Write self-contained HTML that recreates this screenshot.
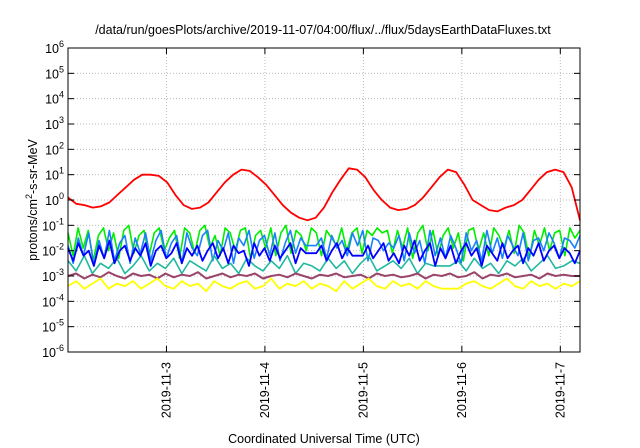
<!DOCTYPE html>
<html><head><meta charset="utf-8"><style>
body{margin:0;background:#fff;}
svg{display:block;font-family:"Liberation Sans",sans-serif;}
</style></head><body>
<svg id="chart" width="640" height="448" viewBox="0 0 640 448" xmlns="http://www.w3.org/2000/svg">
<text x="323" y="34" font-size="12.5" text-anchor="middle" fill="#000">/data/run/goesPlots/archive/2019-11-07/04:00/flux/../flux/5daysEarthDataFluxes.txt</text>
<text transform="translate(37,200) rotate(-90)" font-size="12.5" text-anchor="middle">protons/cm<tspan dy="-5" font-size="9">2</tspan><tspan dy="5">-s-sr-MeV</tspan></text>
<text x="324" y="443" font-size="12.5" text-anchor="middle">Coordinated Universal Time (UTC)</text>
<g id="grid"></g><g id="series"></g><g id="axes"></g>
</svg>
<script>
const L=68,R=580,T=48,B=352;
const yMin=-6,yMax=6,xMax=5.2;
const yTicks=[-6,-5,-4,-3,-2,-1,0,1,2,3,4,5,6];
const xTickDays=[1,2,3,4,5];
const xTickLabels=["2019-11-3","2019-11-4","2019-11-5","2019-11-6","2019-11-7"];
const red=[0.1,-0.15,-0.2,-0.3,-0.25,-0.1,0.2,0.5,0.8,1.0,1.0,0.95,
0.7,0.2,-0.2,-0.35,-0.3,-0.1,0.3,0.7,1.0,1.2,1.15,0.9,
0.6,0.2,-0.2,-0.5,-0.7,-0.8,-0.7,-0.3,0.3,0.8,1.25,1.2,
0.9,0.4,0.0,-0.3,-0.4,-0.35,-0.2,0.1,0.5,0.9,1.2,1.1,
0.6,0.0,-0.2,-0.4,-0.45,-0.3,-0.2,0.0,0.4,0.8,1.1,1.2,
1.1,0.5,-0.8];
const green=[-1.3,-2.2,-1.1,-1.9,-1.2,-2.4,-1.4,-1.1,-2.0,-1.3,-2.3,-1.2,-1.0,-2.1,-1.4,-1.2,-2.2,-1.3,-1.1,-2.0,-1.5,-1.2,-2.3,-1.1,-1.3,-2.1,-1.2,-1.0,-1.9,-1.4,-2.2,-1.1,-1.3,-2.0,-1.2,-1.1,-2.3,-1.4,-1.2,-1.9,-1.1,-2.2,-1.3,-1.0,-2.1,-1.2,-1.4,-2.0,-1.1,-1.3,-2.2,-1.2,-1.5,-1.8,-1.1,-2.0,-1.3,-1.1,-2.1,-1.2,-1.4,-1.1,-1.3,-1.2,
-2.1,-1.2,-1.9,-1.1,-2.3,-1.3,-1.0,-2.0,-1.2,-2.2,-1.4,-1.1,-1.9,-1.3,-2.4,-1.2,-1.1,-2.0,-1.3,-2.2,-1.1,-1.4,-1.9,-1.2,-2.1,-1.0,-1.3,-2.3,-1.2,-1.8,-1.1,-2.0,-1.3,-1.2,-2.2,-1.1,-1.5,-1.2];
const lightBlue=[-1.8,-2.5,-1.5,-2.2,-1.3,-2.6,-1.6,-2.3,-1.2,-2.4,-1.7,-1.4,-2.5,-1.5,-2.1,-1.3,-2.4,-1.6,-1.2,-2.3,-1.7,-1.4,-2.5,-1.3,-1.9,-2.2,-1.4,-1.2,-2.4,-1.6,-2.0,-1.3,-2.5,-1.5,-1.8,-1.2,-2.3,-1.6,-1.4,-2.2,-1.3,-2.4,-1.7,-1.2,-2.1,-1.5,-1.8,-1.8,-1.8,-1.5,-2.3,-1.4,-1.9,-1.6,-2.2,-1.3,-1.8,-1.2,-2.4,-1.5,-1.6,-2.0,-1.7,-1.9,
-1.4,-2.4,-1.3,-2.1,-1.6,-2.5,-1.2,-2.2,-1.5,-2.3,-1.4,-1.9,-2.5,-1.3,-2.0,-1.6,-2.4,-1.2,-2.1,-1.5,-2.3,-1.4,-1.8,-2.2,-1.3,-2.4,-1.6,-1.5,-2.0,-1.3,-1.7,-2.3,-1.5,-1.6,-1.9,-1.4];
const teal=[-2.4,-2.8,-2.2,-2.9,-2.5,-2.7,-2.3,-2.9,-2.6,-2.2,-2.8,-2.5,-2.7,-2.3,-2.9,-2.4,-2.6,-2.8,-2.2,-2.7,-2.5,-2.9,-2.3,-2.6,-2.8,-2.4,-2.7,-2.2,-2.9,-2.5,-2.6,-2.8,-2.3,-2.7,-2.4,-2.9,-2.5,-2.2,-2.8,-2.6,-2.4,-2.7,-2.3,-2.9,-2.5,-2.6,-2.6,-2.6,-2.4,-2.8,-2.3,-2.7,-2.5,-2.9,-2.4,-2.6,-2.3,-2.8,-2.5,-2.2,-2.7,-2.6,-2.4,-2.5];
const blue=[-1.9,-2.4,-1.7,-2.2,-2.0,-2.6,-1.8,-2.3,-1.6,-2.5,-2.0,-1.8,-2.4,-1.9,-2.2,-1.7,-2.6,-2.0,-1.8,-2.3,-2.1,-1.7,-2.5,-1.9,-2.2,-1.8,-2.4,-2.0,-1.7,-2.3,-1.9,-2.5,-1.8,-2.1,-2.0,-2.6,-1.7,-2.2,-1.9,-2.4,-1.8,-2.3,-2.0,-1.7,-2.5,-1.9,-2.1,-2.1,-2.1,-1.8,-2.4,-2.0,-1.7,-2.3,-1.9,-2.2,-2.2,-2.2,-1.8,-2.3,-2.0,-1.7,-2.4,-2.1,
-2.5,-1.8,-2.2,-1.6,-2.4,-2.0,-1.7,-2.6,-1.9,-2.3,-1.8,-2.5,-2.0,-1.7,-2.2,-1.9,-2.6,-1.8,-2.1,-2.4,-1.7,-2.3,-2.0,-1.8,-2.5,-1.9,-2.2,-1.7,-2.4,-2.0,-1.8,-2.3,-1.9,-2.1,-2.5,-2.0];
const purple=[-3.0,-2.9,-3.1,-2.95,-3.05,-2.85,-3.0,-3.1,-2.9,-3.0,-2.95,-3.1,-2.9,-3.05,-2.95,-3.0,-2.85,-3.1,-3.0,-2.9,-3.05,-2.95,-3.0,-2.9,-3.1,-3.0,-2.95,-3.05,-2.9,-3.0,-3.1,-2.95,-3.0,-2.9,-3.05,-3.0,-2.95,-3.1,-2.9,-3.0,-2.95,-3.05,-3.0,-2.9,-3.1,-2.95,-3.0,-2.9,-3.05,-3.0,-2.85,-3.1,-2.95,-3.0,-2.9,-3.05,-3.0,-2.95,-3.1,-2.9,-3.0,-2.95,-3.0,-3.0];
const yellow=[-3.4,-3.2,-3.5,-3.3,-3.1,-3.5,-3.3,-3.4,-3.2,-3.5,-3.3,-3.1,-3.4,-3.5,-3.2,-3.4,-3.3,-3.6,-3.2,-3.4,-3.5,-3.3,-3.2,-3.5,-3.4,-3.1,-3.5,-3.3,-3.4,-3.2,-3.5,-3.3,-3.4,-3.6,-3.2,-3.5,-3.3,-3.1,-3.4,-3.5,-3.2,-3.4,-3.3,-3.5,-3.2,-3.4,-3.5,-3.5,-3.5,-3.3,-3.2,-3.4,-3.5,-3.3,-3.1,-3.4,-3.5,-3.2,-3.4,-3.3,-3.5,-3.3,-3.4,-3.2];
const NS="http://www.w3.org/2000/svg";
const xs=d=>L+(R-L)*d/xMax;
const ys=v=>B-(B-T)*(v-yMin)/(yMax-yMin);
function mk(tag,attrs,parent){const e=document.createElementNS(NS,tag);for(const k in attrs)e.setAttribute(k,attrs[k]);parent.appendChild(e);return e;}
const grid=document.getElementById('grid'),axes=document.getElementById('axes'),ser=document.getElementById('series');
yTicks.forEach(t=>{const y=ys(t);
 if(t>yMin&&t<yMax){const g=mk('line',{x1:L,x2:R,y1:y,y2:y,stroke:'#bbb','stroke-dasharray':'1,2','stroke-width':1},grid);
 
 }
 const tk=mk('line',{x1:L,x2:L+6,y1:y,y2:y,stroke:'#000'},axes);
 
 
 const tk2=mk('line',{x1:R-6,x2:R,y1:y,y2:y,stroke:'#000'},axes);
 
 
 const tx=mk('text',{x:L-4,y:y+5,'font-size':'12.5','text-anchor':'end'},axes);
 
 
 const s1=document.createElementNS(NS,'tspan');s1.textContent='10';tx.appendChild(s1);
 const s2=document.createElementNS(NS,'tspan');s2.setAttribute('dy','-6');s2.setAttribute('font-size','9');s2.textContent=String(t);tx.appendChild(s2);
});
xTickDays.forEach((d,i)=>{const x=xs(d);
 const g=mk('line',{x1:x,x2:x,y1:T,y2:B,stroke:'#bbb','stroke-dasharray':'1,2'},grid);
 
 
 const tk=mk('line',{x1:x,x2:x,y1:B-6,y2:B,stroke:'#000'},axes);
 
 
 const tk2=mk('line',{x1:x,x2:x,y1:T,y2:T+6,stroke:'#000'},axes);
 
 
 const tx=mk('text',{transform:`translate(${x+4},${B+10}) rotate(-90)`,'font-size':'12.5','text-anchor':'end'},axes);
 
 
 tx.textContent=xTickLabels[i];
});
const fr=mk('rect',{x:L,y:T,width:R-L,height:B-T,fill:'none',stroke:'#000','stroke-width':1},axes);


function line(arr,color,w,name){
 const n=arr.length;const pts=arr.map((v,i)=>xs(i*xMax/(n-1)).toFixed(1)+','+ys(v).toFixed(1)).join(' ');
 const p=mk('polyline',{points:pts,fill:'none',stroke:color,'stroke-width':w,'stroke-linejoin':'round'},ser);
 
 
}
line(green,'#00ee00',1.6,'series-green');
line(lightBlue,'#1a80ff',1.6,'series-light-blue');
line(teal,'#20b8a0',1.6,'series-teal');
line(blue,'#0000ff',1.8,'series-blue');
line(purple,'#99446a',2,'series-purple');
line(yellow,'#ffff00',1.8,'series-yellow');
line(red,'#ff0000',1.8,'series-red');
</script>
</body></html>
